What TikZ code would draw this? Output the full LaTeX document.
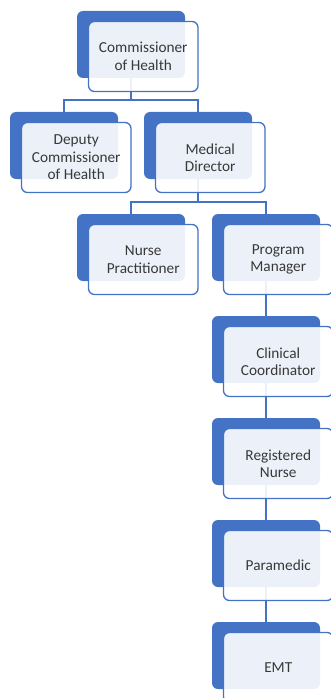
\documentclass[tikz,border=0pt]{standalone}
\usepackage{fontspec}
\setmainfont{Carlito}
\definecolor{obl}{HTML}{4472C4}
\definecolor{otx}{HTML}{383838}
\tikzset{
  backbox/.style={rectangle, rounded corners=6pt, fill=obl, draw=none,
    minimum width=108pt, minimum height=67pt, inner sep=0pt},
  frontbox/.style={rectangle, rounded corners=6pt, fill=white, fill opacity=0.9,
    text opacity=1, draw=obl, draw opacity=1, line width=1.3pt,
    minimum width=109.5pt, minimum height=70pt, inner sep=0pt,
    text=otx, align=center, font=\fontsize{15.3pt}{17.5pt}\selectfont},
  conn/.style={draw=obl, line width=1.3pt}
}
\begin{document}
\begin{tikzpicture}[x=1pt, y=-1pt]
\useasboundingbox (0,0) rectangle (331,698);
% back boxes (top-left x,y + (54,33.5))
\node[backbox] (cb) at (77+54, 11+33.5) {};
\node[backbox] (db) at (10+54, 112+33.5) {};
\node[backbox] (mb) at (144+54, 112+33.5) {};
\node[backbox] (nb) at (77+54, 214+33.5) {};
\node[backbox] (pb) at (212+54, 214+33.5) {};
\node[backbox] (kb) at (212+54, 316+33.5) {};
\node[backbox] (rb) at (212+54, 418+33.5) {};
\node[backbox] (ab) at (212+54, 520+33.5) {};
\node[backbox] (eb) at (212+54, 622+33.5) {};
% connectors
\coordinate (j1) at (131,100);
\coordinate (j2) at (198,202);
\draw[conn] (cb.south) -- (j1) -| (db.north);
\draw[conn] (j1) -| (mb.north);
\draw[conn] (mb.south) -- (j2) -| (nb.north);
\draw[conn] (j2) -| (pb.north);
\draw[conn] (pb.south) -- (kb.north);
\draw[conn] (kb.south) -- (rb.north);
\draw[conn] (rb.south) -- (ab.north);
\draw[conn] (ab.south) -- (eb.north);
% front boxes (top-left x+11.5, y+10.5)
\node[frontbox] (cf) at (77+66.25, 11+45.5) {Commissioner\\of Health};
\node[frontbox] (df) at (10+66.25, 112+45.5) {Deputy\\Commissioner\\of Health};
\node[frontbox] (mf) at (144+66.25, 112+45.5) {Medical\\Director};
\node[frontbox] (nf) at (77+66.25, 214+45.5) {Nurse\\Practitioner};
\node[frontbox] (pf) at (212+66.25, 214+45.5) {Program\\Manager};
\node[frontbox] (kf) at (212+66.25, 316+45.5) {Clinical\\Coordinator};
\node[frontbox] (rf) at (212+66.25, 418+45.5) {Registered\\Nurse};
\node[frontbox] (af) at (212+66.25, 520+45.5) {Paramedic};
\node[frontbox] (ef) at (212+66.25, 622+45.5) {EMT};
\end{tikzpicture}
\end{document}
